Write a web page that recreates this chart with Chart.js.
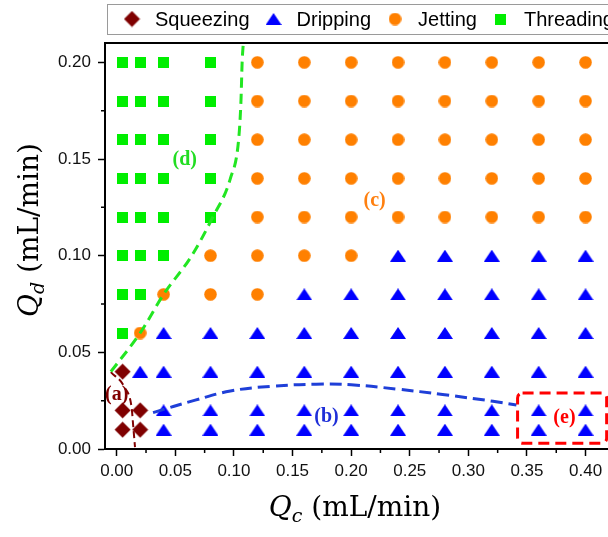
<!DOCTYPE html>
<html><head><meta charset="utf-8">
<script src="https://cdn.jsdelivr.net/npm/chart.js@4.4.1/dist/chart.umd.min.js"></script>
<style>html,body{margin:0;padding:0;overflow:hidden;background:#fff}</style>
</head><body>
<canvas id="c" width="618" height="537"></canvas>
<script>
// ---- data ----
const seriesNames = ['Squeezing', 'Dripping', 'Jetting', 'Threading'];

const squeezingX = [0.005, 0.005, 0.02, 0.005, 0.02];
const squeezingY = [0.04, 0.02, 0.02, 0.01, 0.01];

const drippingX = [0.02,
  0.04, 0.04, 0.04, 0.04,
  0.08, 0.08, 0.08, 0.08,
  0.12, 0.12, 0.12, 0.12,
  0.16, 0.16, 0.16, 0.16, 0.16,
  0.20, 0.20, 0.20, 0.20, 0.20,
  0.24, 0.24, 0.24, 0.24, 0.24, 0.24,
  0.28, 0.28, 0.28, 0.28, 0.28, 0.28,
  0.32, 0.32, 0.32, 0.32, 0.32, 0.32,
  0.36, 0.36, 0.36, 0.36, 0.36, 0.36,
  0.40, 0.40, 0.40, 0.40, 0.40, 0.40];
const drippingY = [0.04,
  0.06, 0.04, 0.02, 0.01,
  0.06, 0.04, 0.02, 0.01,
  0.06, 0.04, 0.02, 0.01,
  0.08, 0.06, 0.04, 0.02, 0.01,
  0.08, 0.06, 0.04, 0.02, 0.01,
  0.10, 0.08, 0.06, 0.04, 0.02, 0.01,
  0.10, 0.08, 0.06, 0.04, 0.02, 0.01,
  0.10, 0.08, 0.06, 0.04, 0.02, 0.01,
  0.10, 0.08, 0.06, 0.04, 0.02, 0.01,
  0.10, 0.08, 0.06, 0.04, 0.02, 0.01];

const jettingX = [0.02, 0.04, 0.08, 0.08,
  0.12, 0.12, 0.12, 0.12, 0.12, 0.12, 0.12,
  0.16, 0.16, 0.16, 0.16, 0.16, 0.16,
  0.20, 0.20, 0.20, 0.20, 0.20, 0.20,
  0.24, 0.24, 0.24, 0.24, 0.24,
  0.28, 0.28, 0.28, 0.28, 0.28,
  0.32, 0.32, 0.32, 0.32, 0.32,
  0.36, 0.36, 0.36, 0.36, 0.36,
  0.40, 0.40, 0.40, 0.40, 0.40];
const jettingY = [0.06, 0.08, 0.10, 0.08,
  0.20, 0.18, 0.16, 0.14, 0.12, 0.10, 0.08,
  0.20, 0.18, 0.16, 0.14, 0.12, 0.10,
  0.20, 0.18, 0.16, 0.14, 0.12, 0.10,
  0.20, 0.18, 0.16, 0.14, 0.12,
  0.20, 0.18, 0.16, 0.14, 0.12,
  0.20, 0.18, 0.16, 0.14, 0.12,
  0.20, 0.18, 0.16, 0.14, 0.12,
  0.20, 0.18, 0.16, 0.14, 0.12];

const threadingX = [0.005, 0.005, 0.005, 0.005, 0.005, 0.005, 0.005, 0.005,
  0.02, 0.02, 0.02, 0.02, 0.02, 0.02, 0.02,
  0.04, 0.04, 0.04, 0.04, 0.04, 0.04,
  0.08, 0.08, 0.08, 0.08, 0.08];
const threadingY = [0.20, 0.18, 0.16, 0.14, 0.12, 0.10, 0.08, 0.06,
  0.20, 0.18, 0.16, 0.14, 0.12, 0.10, 0.08,
  0.20, 0.18, 0.16, 0.14, 0.12, 0.10,
  0.20, 0.18, 0.16, 0.14, 0.12];

// boundary curves (dashed)
const boundaryDX = [-0.005, 0.02, 0.04, 0.064, 0.082, 0.097, 0.104, 0.106, 0.107, 0.108];
const boundaryDY = [0.040, 0.060, 0.080, 0.100, 0.120, 0.140, 0.160, 0.180, 0.200, 0.210];
const boundaryBX = [0.031, 0.067, 0.097, 0.131, 0.170, 0.200, 0.239, 0.278, 0.321, 0.341];
const boundaryBY = [0.0188, 0.0253, 0.0300, 0.0324, 0.0335, 0.0332, 0.0310, 0.0282, 0.0247, 0.0228];
const boundaryAX = [-0.005, 0.007, 0.0128, 0.014, 0.0156];
const boundaryAY = [0.0398, 0.0316, 0.021, 0.0124, 0.001];

// region labels
const regionLabels = ['(a)', '(b)', '(c)', '(d)', '(e)'];
const regionLabelX = [0.000, 0.179, 0.220, 0.058, 0.382];
const regionLabelY = [0.0279, 0.0166, 0.1283, 0.1495, 0.016];
const regionColors = ['#800000', '#1f2fd8', '#ff8010', '#22dd22', '#ff0000'];

// highlighted box (e)
const boxEX = [0.342, 0.418];
const boxEY = [0.003, 0.029];

// ---- markers ----
function mk(w, h, draw) { const c = document.createElement('canvas'); c.width = w; c.height = h; draw(c.getContext('2d')); return c; }
const diamond = mk(17, 17, g => { g.fillStyle = '#7f0000'; g.beginPath(); g.moveTo(8.5, 0.5); g.lineTo(16.5, 8.5); g.lineTo(8.5, 16.5); g.lineTo(0.5, 8.5); g.closePath(); g.fill(); });
const triangle = mk(16, 12, g => { g.fillStyle = '#0000ff'; g.beginPath(); g.moveTo(8, 0); g.lineTo(16, 12); g.lineTo(0, 12); g.closePath(); g.fill(); });
const circle = mk(13, 13, g => { g.fillStyle = '#ff8000'; g.beginPath(); g.arc(6.5, 6.5, 6.3, 0, 2 * Math.PI); g.fill(); });
const square = mk(11, 11, g => { g.fillStyle = '#00ee00'; g.fillRect(0, 0, 11, 11); });
const markers = [diamond, triangle, circle, square];

const pts = (xs, ys) => xs.map((x, i) => ({ x: x, y: ys[i] }));

function drawTitle(ctx, cx, cy, rot, sub) {
  ctx.save();
  ctx.translate(cx, cy); ctx.rotate(rot);
  const reg = '28px "DejaVu Serif"', it = 'italic 28px "DejaVu Serif"', sm = 'italic 19px "DejaVu Serif"';
  ctx.font = it; const wQ = ctx.measureText('Q').width;
  ctx.font = sm; const wS = ctx.measureText(sub).width;
  ctx.font = reg; const wR = ctx.measureText(' (mL/min)').width;
  let x = -(wQ + wS + wR) / 2;
  ctx.fillStyle = '#000'; ctx.textBaseline = 'alphabetic'; ctx.textAlign = 'left';
  ctx.font = it; ctx.fillText('Q', x, 0); x += wQ;
  ctx.font = sm; ctx.fillText(sub, x, 6); x += wS;
  ctx.font = reg; ctx.fillText(' (mL/min)', x, 0);
  ctx.restore();
}

const decor = {
  id: 'decor',
  afterDatasetsDraw(chart) {
    const ctx = chart.ctx, xs = chart.scales.x, ys = chart.scales.y;
    ctx.save();
    const x1 = xs.getPixelForValue(boxEX[0]), x2 = xs.getPixelForValue(boxEX[1]);
    const y1 = ys.getPixelForValue(boxEY[1]), y2 = ys.getPixelForValue(boxEY[0]);
    ctx.strokeStyle = '#ff0000'; ctx.lineWidth = 3; ctx.setLineDash([11, 6]);
    ctx.beginPath(); ctx.roundRect(x1, y1, x2 - x1, y2 - y1, 5); ctx.stroke();
    ctx.restore();
    ctx.save();
    ctx.font = 'bold 20px "Liberation Serif"'; ctx.textAlign = 'center'; ctx.textBaseline = 'middle';
    regionLabels.forEach((t, i) => {
      ctx.fillStyle = regionColors[i];
      ctx.fillText(t, xs.getPixelForValue(regionLabelX[i]), ys.getPixelForValue(regionLabelY[i]));
    });
    ctx.restore();
  },
  afterDraw(chart) {
    const ctx = chart.ctx, a = chart.chartArea, xs = chart.scales.x, ys = chart.scales.y;
    ctx.save();
    ctx.strokeStyle = '#000'; ctx.lineWidth = 2;
    ctx.beginPath(); ctx.moveTo(a.left - 1, a.top); ctx.lineTo(a.right + 2, a.top); ctx.stroke();
    ctx.lineWidth = 1.5;
    ctx.beginPath();
    for (let v = 0.025; v < xs.max; v += 0.05) {
      const p = xs.getPixelForValue(v); ctx.moveTo(p, a.bottom); ctx.lineTo(p, a.bottom + 4);
    }
    for (let v = 0.025; v < ys.max; v += 0.05) {
      const p = ys.getPixelForValue(v); ctx.moveTo(a.left, p); ctx.lineTo(a.left - 4, p);
    }
    ctx.stroke();
    ctx.restore();
    drawTitle(ctx, 355, 516, 0, 'c');
    drawTitle(ctx, 38, 230, -Math.PI / 2, 'd');
    ctx.save();
    ctx.strokeStyle = '#9a9a9a'; ctx.lineWidth = 1;
    ctx.strokeRect(107.5, 4.5, 540, 30);
    ctx.font = '20px "Liberation Sans"'; ctx.fillStyle = '#000'; ctx.textBaseline = 'alphabetic'; ctx.textAlign = 'left';
    let mx = 132; const ly = 19;
    seriesNames.forEach((name, i) => {
      const m = markers[i];
      ctx.drawImage(m, mx - m.width / 2, ly - m.height / 2);
      const tx = mx + 23;
      ctx.fillText(name, tx, 25.5);
      mx = tx + ctx.measureText(name).width + 24;
    });
    ctx.restore();
  }
};

const lineDs = (xs, ys, color, width, dash, mono) => ({
  type: 'line', data: pts(xs, ys), borderColor: color, borderWidth: width, borderDash: dash,
  pointRadius: 0, fill: false, order: 0,
  cubicInterpolationMode: mono ? 'monotone' : 'default', tension: mono ? 0 : 0.4
});

new Chart(document.getElementById('c'), {
  type: 'scatter',
  data: {
    datasets: [
      lineDs(boundaryDX, boundaryDY, '#22e622', 3, [10, 6], true),
      lineDs(boundaryBX, boundaryBY, '#1f3fd8', 3, [12, 6], false),
      lineDs(boundaryAX, boundaryAY, '#800000', 2, [7, 4], true),
      { label: seriesNames[0], data: pts(squeezingX, squeezingY), pointStyle: diamond, pointRadius: 8, order: 1 },
      { label: seriesNames[1], data: pts(drippingX, drippingY), pointStyle: triangle, pointRadius: 8, order: 1 },
      { label: seriesNames[2], data: pts(jettingX, jettingY), pointStyle: circle, pointRadius: 7, order: 1 },
      { label: seriesNames[3], data: pts(threadingX, threadingY), pointStyle: square, pointRadius: 7, order: 1 }
    ]
  },
  options: {
    responsive: false,
    animation: false,
    devicePixelRatio: 1,
    layout: { padding: { top: 43, right: 2, left: 0, bottom: 0 } },
    plugins: { legend: { display: false }, tooltip: { enabled: false } },
    scales: {
      x: {
        type: 'linear', min: -0.01, max: 0.42,
        ticks: { stepSize: 0.05, includeBounds: false, autoSkip: false, maxRotation: 0,
          callback: v => Number(v).toFixed(2), font: { family: 'Liberation Sans', size: 17 }, color: '#111', padding: 5 },
        grid: { drawOnChartArea: false, tickLength: 7, tickColor: '#000', tickWidth: 1.5 },
        border: { color: '#000', width: 2 },
        afterFit: s => { s.height = 88; }
      },
      y: {
        type: 'linear', min: 0, max: 0.21,
        ticks: { stepSize: 0.05, includeBounds: false, autoSkip: false,
          callback: v => Number(v).toFixed(2), font: { family: 'Liberation Sans', size: 17 }, color: '#111', padding: 7 },
        grid: { drawOnChartArea: false, tickLength: 7, tickColor: '#000', tickWidth: 1.5 },
        border: { color: '#000', width: 2 },
        afterFit: s => { s.width = 105; }
      }
    }
  },
  plugins: [decor]
});
</script>
</body></html>
